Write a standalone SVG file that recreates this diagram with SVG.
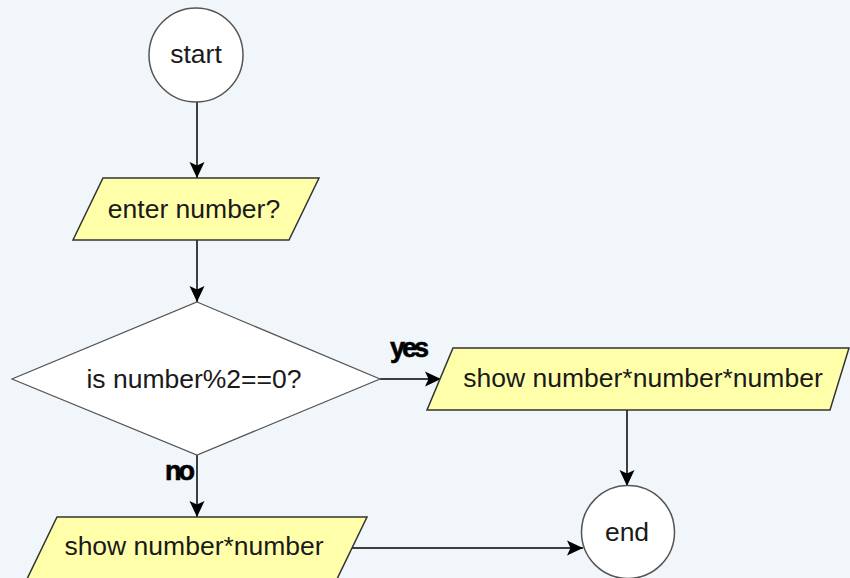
<svg xmlns="http://www.w3.org/2000/svg" width="850" height="578" viewBox="0 0 850 578">
  <style>
    .bg { fill: #f0f6f9; }
    .io { fill: #ffffaa; stroke: #333333; stroke-width: 1.5; }
    .term { fill: #ffffff; stroke: #555555; stroke-width: 1.5; }
    .dec { fill: #ffffff; stroke: #555555; stroke-width: 1.2; }
    .t { font-family: "Liberation Sans", Arial, sans-serif; font-size: 26.5px; fill: #1a1a1a; text-anchor: middle; }
    .lbl { font-family: "Liberation Sans", Arial, sans-serif; font-size: 27px; font-weight: bold; fill: #000000; stroke: #000000; stroke-width: 0.6; letter-spacing: -3px; }
    .edge { stroke: #000000; stroke-width: 1.5; fill: none; marker-end: url(#arr); }
  </style>
  <defs>
    <marker id="arr" viewBox="0 0 16 16" refX="16" refY="8" markerWidth="16" markerHeight="16" markerUnits="userSpaceOnUse" orient="auto">
      <path d="M0,0.5 L16,8 L0,15.5 L3.5,8 Z" fill="#000000"/>
    </marker>
  </defs>
  <rect class="bg" x="0" y="0" width="850" height="578"/>

  <g id="edges">
    <line class="edge" x1="197" y1="102" x2="197" y2="178"/>
    <line class="edge" x1="197" y1="240" x2="197" y2="302"/>
    <line class="edge" x1="380" y1="379" x2="441" y2="379"/>
    <line class="edge" x1="197" y1="455" x2="197" y2="517"/>
    <line class="edge" x1="627" y1="410" x2="627" y2="486"/>
    <line class="edge" x1="352" y1="548" x2="583" y2="548"/>
    <text class="lbl" x="390" y="357">yes</text>
    <text class="lbl" x="165" y="480">no</text>
  </g>

  <g id="start">
    <circle class="term" cx="196" cy="55" r="47"/>
    <text class="t" x="196" y="63">start</text>
  </g>

  <g id="enter">
    <polygon class="io" points="103,178 319,178 289,240 73,240"/>
    <text class="t" x="194" y="218">enter number?</text>
  </g>

  <g id="decision">
    <polygon class="dec" points="197,302 380,379 197,455 12,379"/>
    <text class="t" x="194" y="388">is number%2==0?</text>
  </g>

  <g id="showCube">
    <polygon class="io" points="453,348 849,348 830,410 427,410"/>
    <text class="t" x="643" y="387">show number*number*number</text>
  </g>

  <g id="showSquare">
    <polygon class="io" points="57,517 367,517 337,579 27,579"/>
    <text class="t" x="194" y="555">show number*number</text>
  </g>

  <g id="end">
    <circle class="term" cx="628" cy="532" r="46.5"/>
    <text class="t" x="627" y="541">end</text>
  </g>
</svg>
